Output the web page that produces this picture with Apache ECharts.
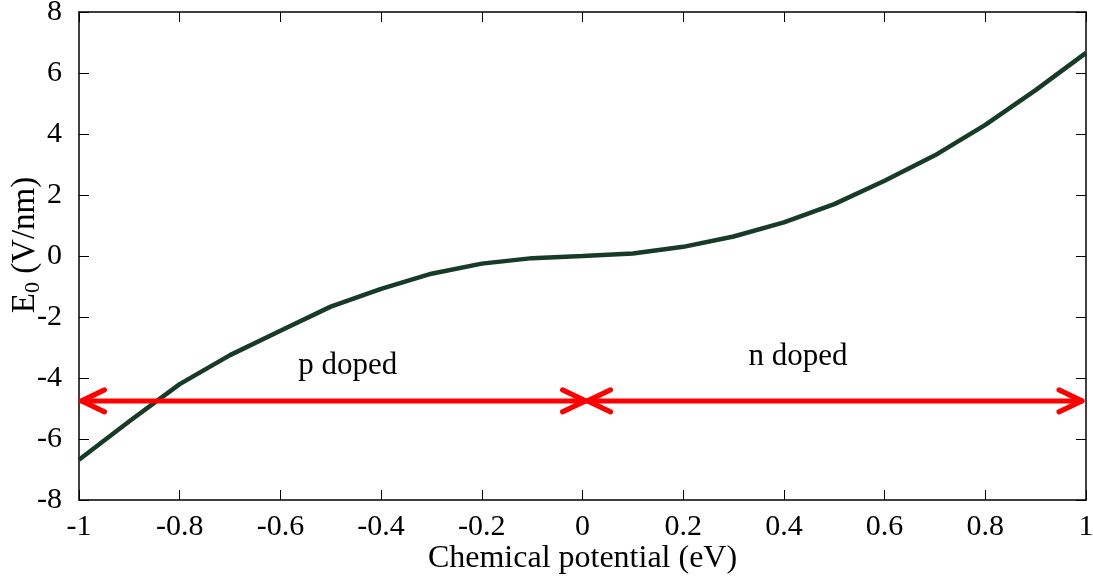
<!DOCTYPE html>
<html>
<head>
<meta charset="utf-8">
<script src="https://cdn.jsdelivr.net/npm/echarts@6/dist/echarts.min.js"></script>
<style>
  html, body { margin: 0; padding: 0; background: #fff; }
  #chart { width: 1093px; height: 583px; }
</style>
</head>
<body>
<div id="chart"></div>
<script>
// Chemical potential (eV) and the resulting field E0 (V/nm)
const mu = [-1, -0.9, -0.8, -0.7, -0.6, -0.5, -0.4, -0.3, -0.2, -0.1, 0,
            0.1, 0.2, 0.3, 0.4, 0.5, 0.6, 0.7, 0.8, 0.9, 1];
const e0 = [-6.68, -5.42, -4.2, -3.25, -2.45, -1.66, -1.08, -0.58, -0.25, -0.07, 0,
            0.08, 0.30, 0.64, 1.10, 1.70, 2.47, 3.30, 4.30, 5.44, 6.66];

const xTicks = [-1, -0.8, -0.6, -0.4, -0.2, 0, 0.2, 0.4, 0.6, 0.8, 1];
const yTicks = [-8, -6, -4, -2, 0, 2, 4, 6, 8];

// Doping-range arrows: [start, end, level], heads at both ends
const arrows = [
  [-0.995, 0.006, -4.75],
  [0.010, 0.992, -4.75]
];
// Region labels: [x, y, text]
const regionLabels = [
  [-0.466, -3.6, 'p doped'],
  [0.428, -3.3, 'n doped']
];

const FONT = '"Liberation Serif", "Times New Roman", serif';
const chart = echarts.init(document.getElementById('chart'));

const axisCommon = {
  type: 'value',
  axisLine: { show: true, onZero: false, lineStyle: { color: '#000', width: 1.5 } },
  axisTick: { show: true, inside: true, length: 10, lineStyle: { color: '#000', width: 1 } },
  splitLine: { show: false }
};

chart.setOption({
  animation: false,
  backgroundColor: '#fff',
  grid: { left: 79, right: 7, top: 12, bottom: 83, containLabel: false, outerBoundsMode: 'none' },
  xAxis: [
    Object.assign({}, axisCommon, {
      min: xTicks[0], max: xTicks[xTicks.length - 1], interval: 0.2,
      position: 'bottom',
      axisLabel: { color: '#000', fontFamily: FONT, fontSize: 30, margin: 12,
                   formatter: v => String(Math.round(v * 10) / 10) },
      name: 'Chemical potential (eV)', nameLocation: 'middle', nameGap: 43,
      nameMoveOverlap: false,
      nameTextStyle: { color: '#000', fontFamily: FONT, fontSize: 32 }
    }),
    Object.assign({}, axisCommon, {
      min: xTicks[0], max: xTicks[xTicks.length - 1], interval: 0.2,
      position: 'top', axisLabel: { show: false }
    })
  ],
  yAxis: [
    Object.assign({}, axisCommon, {
      min: yTicks[0], max: yTicks[yTicks.length - 1], interval: 2,
      position: 'left',
      axisLabel: { color: '#000', fontFamily: FONT, fontSize: 30, margin: 17 },
      name: '{m|E}{s|0}{m| (V/nm)}', nameLocation: 'middle', nameGap: 35, nameRotate: 90,
      nameMoveOverlap: false,
      nameTextStyle: {
        color: '#000', fontFamily: FONT, fontSize: 33, padding: [0, 0, 0, 22],
        rich: {
          m: { fontFamily: FONT, fontSize: 33, color: '#000' },
          s: { fontFamily: FONT, fontSize: 22, color: '#000', verticalAlign: 'bottom', padding: [16, 0, 0, 0] }
        }
      }
    }),
    Object.assign({}, axisCommon, {
      min: yTicks[0], max: yTicks[yTicks.length - 1], interval: 2,
      position: 'right', axisLabel: { show: false }
    })
  ],
  series: [
    {
      type: 'line',
      data: mu.map((x, i) => [x, e0[i]]),
      showSymbol: false,
      lineStyle: { color: '#173b27', width: 4.5 },
      z: 3
    },
    {
      type: 'custom',
      data: arrows,
      renderItem: function (params, api) {
        const a = api.coord([api.value(0), api.value(2)]);
        const b = api.coord([api.value(1), api.value(2)]);
        const armX = 23, armY = 11;
        const style = { stroke: '#ff0000', lineWidth: 5, lineCap: 'round', lineJoin: 'round', fill: null };
        return {
          type: 'group',
          children: [
            { type: 'line', shape: { x1: a[0], y1: a[1], x2: b[0], y2: b[1] }, style: style },
            { type: 'polyline', shape: { points: [[a[0] + armX, a[1] - armY], a, [a[0] + armX, a[1] + armY]] }, style: style },
            { type: 'polyline', shape: { points: [[b[0] - armX, b[1] - armY], b, [b[0] - armX, b[1] + armY]] }, style: style }
          ]
        };
      },
      z: 4
    },
    {
      type: 'custom',
      data: regionLabels,
      renderItem: function (params, api) {
        const p = api.coord([api.value(0), api.value(1)]);
        return {
          type: 'text',
          x: p[0], y: p[1],
          style: {
            text: regionLabels[params.dataIndex][2],
            fill: '#000', font: '31px ' + FONT,
            align: 'center', verticalAlign: 'middle'
          }
        };
      },
      z: 5
    }
  ]
});
</script>
</body>
</html>
